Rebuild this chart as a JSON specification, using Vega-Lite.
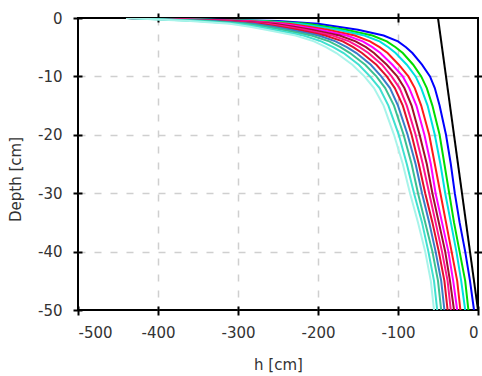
{
  "$schema": "https://vega.github.io/schema/vega-lite/v6.json",
  "width": 400,
  "height": 292,
  "autosize": {"type": "none"},
  "padding": {"left": 78, "top": 18, "right": 4, "bottom": 66},
  "background": "white",
  "datasets": {
    "curves": [
      {"s":"c00","d":0,"h":-435},{"s":"c00","d":-0.5,"h":-250},{"s":"c00","d":-1,"h":-200},{"s":"c00","d":-1.5,"h":-175},{"s":"c00","d":-2,"h":-150},{"s":"c00","d":-3,"h":-118},{"s":"c00","d":-4,"h":-100},{"s":"c00","d":-5,"h":-90},{"s":"c00","d":-6,"h":-82},{"s":"c00","d":-8,"h":-70},{"s":"c00","d":-10,"h":-60},{"s":"c00","d":-12,"h":-54},{"s":"c00","d":-15,"h":-48},{"s":"c00","d":-20,"h":-40},{"s":"c00","d":-25,"h":-34},{"s":"c00","d":-30,"h":-29},{"s":"c00","d":-35,"h":-23},{"s":"c00","d":-40,"h":-16},{"s":"c00","d":-45,"h":-10},{"s":"c00","d":-50,"h":-5},
      {"s":"c01","d":0,"h":-436},{"s":"c01","d":-0.5,"h":-264},{"s":"c01","d":-1,"h":-214},{"s":"c01","d":-1.5,"h":-189},{"s":"c01","d":-2,"h":-165},{"s":"c01","d":-3,"h":-132},{"s":"c01","d":-4,"h":-114},{"s":"c01","d":-5,"h":-103},{"s":"c01","d":-6,"h":-94},{"s":"c01","d":-8,"h":-81},{"s":"c01","d":-10,"h":-71},{"s":"c01","d":-12,"h":-64},{"s":"c01","d":-15,"h":-57},{"s":"c01","d":-20,"h":-48},{"s":"c01","d":-25,"h":-42},{"s":"c01","d":-30,"h":-36},{"s":"c01","d":-35,"h":-30},{"s":"c01","d":-40,"h":-23},{"s":"c01","d":-45,"h":-16},{"s":"c01","d":-50,"h":-12},
      {"s":"c02","d":0,"h":-436},{"s":"c02","d":-0.5,"h":-274},{"s":"c02","d":-1,"h":-224},{"s":"c02","d":-1.5,"h":-199},{"s":"c02","d":-2,"h":-175},{"s":"c02","d":-3,"h":-142},{"s":"c02","d":-4,"h":-123},{"s":"c02","d":-5,"h":-112},{"s":"c02","d":-6,"h":-103},{"s":"c02","d":-8,"h":-89},{"s":"c02","d":-10,"h":-78},{"s":"c02","d":-12,"h":-71},{"s":"c02","d":-15,"h":-63},{"s":"c02","d":-20,"h":-54},{"s":"c02","d":-25,"h":-47},{"s":"c02","d":-30,"h":-41},{"s":"c02","d":-35,"h":-34},{"s":"c02","d":-40,"h":-27},{"s":"c02","d":-45,"h":-21},{"s":"c02","d":-50,"h":-16},
      {"s":"c03","d":0,"h":-437},{"s":"c03","d":-0.5,"h":-286},{"s":"c03","d":-1,"h":-236},{"s":"c03","d":-1.5,"h":-211},{"s":"c03","d":-2,"h":-188},{"s":"c03","d":-3,"h":-154},{"s":"c03","d":-4,"h":-135},{"s":"c03","d":-5,"h":-123},{"s":"c03","d":-6,"h":-113},{"s":"c03","d":-8,"h":-99},{"s":"c03","d":-10,"h":-87},{"s":"c03","d":-12,"h":-79},{"s":"c03","d":-15,"h":-71},{"s":"c03","d":-20,"h":-61},{"s":"c03","d":-25,"h":-54},{"s":"c03","d":-30,"h":-47},{"s":"c03","d":-35,"h":-40},{"s":"c03","d":-40,"h":-33},{"s":"c03","d":-45,"h":-26},{"s":"c03","d":-50,"h":-22},
      {"s":"c04","d":0,"h":-437},{"s":"c04","d":-0.5,"h":-296},{"s":"c04","d":-1,"h":-246},{"s":"c04","d":-1.5,"h":-221},{"s":"c04","d":-2,"h":-198},{"s":"c04","d":-3,"h":-164},{"s":"c04","d":-4,"h":-144},{"s":"c04","d":-5,"h":-132},{"s":"c04","d":-6,"h":-122},{"s":"c04","d":-8,"h":-107},{"s":"c04","d":-10,"h":-94},{"s":"c04","d":-12,"h":-86},{"s":"c04","d":-15,"h":-77},{"s":"c04","d":-20,"h":-67},{"s":"c04","d":-25,"h":-59},{"s":"c04","d":-30,"h":-53},{"s":"c04","d":-35,"h":-45},{"s":"c04","d":-40,"h":-37},{"s":"c04","d":-45,"h":-31},{"s":"c04","d":-50,"h":-26},
      {"s":"c05","d":0,"h":-438},{"s":"c05","d":-0.5,"h":-305},{"s":"c05","d":-1,"h":-255},{"s":"c05","d":-1.5,"h":-230},{"s":"c05","d":-2,"h":-208},{"s":"c05","d":-3,"h":-173},{"s":"c05","d":-4,"h":-153},{"s":"c05","d":-5,"h":-140},{"s":"c05","d":-6,"h":-130},{"s":"c05","d":-8,"h":-114},{"s":"c05","d":-10,"h":-101},{"s":"c05","d":-12,"h":-92},{"s":"c05","d":-15,"h":-83},{"s":"c05","d":-20,"h":-73},{"s":"c05","d":-25,"h":-64},{"s":"c05","d":-30,"h":-57},{"s":"c05","d":-35,"h":-49},{"s":"c05","d":-40,"h":-41},{"s":"c05","d":-45,"h":-35},{"s":"c05","d":-50,"h":-30},
      {"s":"c06","d":0,"h":-438},{"s":"c06","d":-0.5,"h":-314},{"s":"c06","d":-1,"h":-264},{"s":"c06","d":-1.5,"h":-239},{"s":"c06","d":-2,"h":-217},{"s":"c06","d":-3,"h":-182},{"s":"c06","d":-4,"h":-161},{"s":"c06","d":-5,"h":-148},{"s":"c06","d":-6,"h":-137},{"s":"c06","d":-8,"h":-120},{"s":"c06","d":-10,"h":-108},{"s":"c06","d":-12,"h":-98},{"s":"c06","d":-15,"h":-89},{"s":"c06","d":-20,"h":-78},{"s":"c06","d":-25,"h":-69},{"s":"c06","d":-30,"h":-61},{"s":"c06","d":-35,"h":-53},{"s":"c06","d":-40,"h":-45},{"s":"c06","d":-45,"h":-38},{"s":"c06","d":-50,"h":-34},
      {"s":"c07","d":0,"h":-438},{"s":"c07","d":-0.5,"h":-323},{"s":"c07","d":-1,"h":-273},{"s":"c07","d":-1.5,"h":-248},{"s":"c07","d":-2,"h":-226},{"s":"c07","d":-3,"h":-191},{"s":"c07","d":-4,"h":-169},{"s":"c07","d":-5,"h":-156},{"s":"c07","d":-6,"h":-145},{"s":"c07","d":-8,"h":-127},{"s":"c07","d":-10,"h":-114},{"s":"c07","d":-12,"h":-104},{"s":"c07","d":-15,"h":-94},{"s":"c07","d":-20,"h":-83},{"s":"c07","d":-25,"h":-74},{"s":"c07","d":-30,"h":-66},{"s":"c07","d":-35,"h":-57},{"s":"c07","d":-40,"h":-49},{"s":"c07","d":-45,"h":-42},{"s":"c07","d":-50,"h":-38},
      {"s":"c08","d":0,"h":-439},{"s":"c08","d":-0.5,"h":-331},{"s":"c08","d":-1,"h":-281},{"s":"c08","d":-1.5,"h":-256},{"s":"c08","d":-2,"h":-235},{"s":"c08","d":-3,"h":-199},{"s":"c08","d":-4,"h":-178},{"s":"c08","d":-5,"h":-164},{"s":"c08","d":-6,"h":-152},{"s":"c08","d":-8,"h":-134},{"s":"c08","d":-10,"h":-121},{"s":"c08","d":-12,"h":-110},{"s":"c08","d":-15,"h":-100},{"s":"c08","d":-20,"h":-88},{"s":"c08","d":-25,"h":-78},{"s":"c08","d":-30,"h":-70},{"s":"c08","d":-35,"h":-61},{"s":"c08","d":-40,"h":-53},{"s":"c08","d":-45,"h":-46},{"s":"c08","d":-50,"h":-42},
      {"s":"c09","d":0,"h":-439},{"s":"c09","d":-0.5,"h":-340},{"s":"c09","d":-1,"h":-290},{"s":"c09","d":-1.5,"h":-265},{"s":"c09","d":-2,"h":-244},{"s":"c09","d":-3,"h":-208},{"s":"c09","d":-4,"h":-186},{"s":"c09","d":-5,"h":-172},{"s":"c09","d":-6,"h":-160},{"s":"c09","d":-8,"h":-141},{"s":"c09","d":-10,"h":-127},{"s":"c09","d":-12,"h":-116},{"s":"c09","d":-15,"h":-105},{"s":"c09","d":-20,"h":-93},{"s":"c09","d":-25,"h":-83},{"s":"c09","d":-30,"h":-75},{"s":"c09","d":-35,"h":-66},{"s":"c09","d":-40,"h":-57},{"s":"c09","d":-45,"h":-50},{"s":"c09","d":-50,"h":-46},
      {"s":"c10","d":0,"h":-440},{"s":"c10","d":-0.5,"h":-350},{"s":"c10","d":-1,"h":-300},{"s":"c10","d":-1.5,"h":-275},{"s":"c10","d":-2,"h":-255},{"s":"c10","d":-3,"h":-218},{"s":"c10","d":-4,"h":-196},{"s":"c10","d":-5,"h":-181},{"s":"c10","d":-6,"h":-168},{"s":"c10","d":-8,"h":-149},{"s":"c10","d":-10,"h":-135},{"s":"c10","d":-12,"h":-123},{"s":"c10","d":-15,"h":-112},{"s":"c10","d":-20,"h":-99},{"s":"c10","d":-25,"h":-89},{"s":"c10","d":-30,"h":-80},{"s":"c10","d":-35,"h":-70},{"s":"c10","d":-40,"h":-62},{"s":"c10","d":-45,"h":-55},{"s":"c10","d":-50,"h":-51},
      {"s":"c11","d":0,"h":-440},{"s":"c11","d":-0.5,"h":-360},{"s":"c11","d":-1,"h":-310},{"s":"c11","d":-1.5,"h":-285},{"s":"c11","d":-2,"h":-265},{"s":"c11","d":-3,"h":-228},{"s":"c11","d":-4,"h":-205},{"s":"c11","d":-5,"h":-190},{"s":"c11","d":-6,"h":-177},{"s":"c11","d":-8,"h":-157},{"s":"c11","d":-10,"h":-142},{"s":"c11","d":-12,"h":-130},{"s":"c11","d":-15,"h":-118},{"s":"c11","d":-20,"h":-105},{"s":"c11","d":-25,"h":-94},{"s":"c11","d":-30,"h":-85},{"s":"c11","d":-35,"h":-75},{"s":"c11","d":-40,"h":-66},{"s":"c11","d":-45,"h":-59},{"s":"c11","d":-50,"h":-55}
    ],
    "black": [
      {"s":"k","d":0,"h":-50},{"s":"k","d":-50,"h":0}
    ]
  },
  "layer": [
    {
      "data": {"name": "curves"},
      "mark": {"type": "line", "strokeWidth": 2, "clip": true},
      "encoding": {
        "x": {
          "field": "h", "type": "quantitative",
          "scale": {"domain": [-500, 0], "nice": false, "zero": false},
          "axis": {
            "orient": "bottom", "title": "h [cm]",
            "values": [-500, -400, -300, -200, -100, 0],
            "labelExpr": "'' + datum.value",
            "offset": -4, "tickSize": 9, "domain": false,
            "labelPadding": 10, "titlePadding": 17,
            "grid": true, "gridDash": [7, 9], "gridColor": "#cfcfcf", "gridWidth": 1.5,
            "gridOpacity": {"condition": {"test": "datum.value === 0 || datum.value === -500", "value": 0}, "value": 1}
          }
        },
        "y": {
          "field": "d", "type": "quantitative",
          "scale": {"domain": [-50, 0], "nice": false, "zero": false},
          "axis": {
            "orient": "left", "title": "Depth [cm]",
            "values": [-50, -40, -30, -20, -10, 0],
            "labelExpr": "'' + datum.value",
            "offset": -4, "tickSize": 9, "domain": false,
            "labelPadding": 11, "titlePadding": 14, "titleY": 161,
            "grid": true, "gridDash": [7, 9], "gridColor": "#cfcfcf", "gridWidth": 1.5,
            "gridOpacity": {"condition": {"test": "datum.value === 0 || datum.value === -50", "value": 0}, "value": 1}
          }
        },
        "color": {
          "field": "s", "type": "nominal", "legend": null,
          "scale": {
            "domain": ["c00","c01","c02","c03","c04","c05","c06","c07","c08","c09","c10","c11"],
            "range": ["#0000ff","#00dd00","#00e0e0","#ff1a1a","#ff00ff","#a0102a","#ff1493","#e0102a","#3a7cc8","#3cc090","#40e0d0","#a8f4ea"]
          }
        },
        "order": {"field": "d", "sort": "descending"}
      }
    },
    {
      "data": {"name": "black"},
      "mark": {"type": "line", "color": "black", "strokeWidth": 2, "clip": true},
      "encoding": {
        "x": {
          "field": "h", "type": "quantitative",
          "axis": {
            "orient": "top", "title": null, "labels": false, "grid": false, "domain": false,
            "offset": -4, "tickSize": 9, "values": [-400, -300, -200, -100]
          }
        },
        "y": {
          "field": "d", "type": "quantitative",
          "axis": {
            "orient": "right", "title": null, "labels": false, "grid": false, "domain": false,
            "offset": -4, "tickSize": 9, "values": [-40, -30, -20, -10]
          }
        },
        "order": {"field": "d", "sort": "descending"}
      }
    }
  ],
  "resolve": {"axis": {"x": "independent", "y": "independent"}},
  "config": {
    "view": {"stroke": "black", "strokeWidth": 2},
    "axis": {
      "labelFont": "DejaVu Sans", "labelFontSize": 15, "labelColor": "#333333",
      "titleFont": "DejaVu Sans", "titleFontSize": 15, "titleFontWeight": "normal", "titleColor": "#333333",
      "tickColor": "black", "tickWidth": 2
    }
  }
}
